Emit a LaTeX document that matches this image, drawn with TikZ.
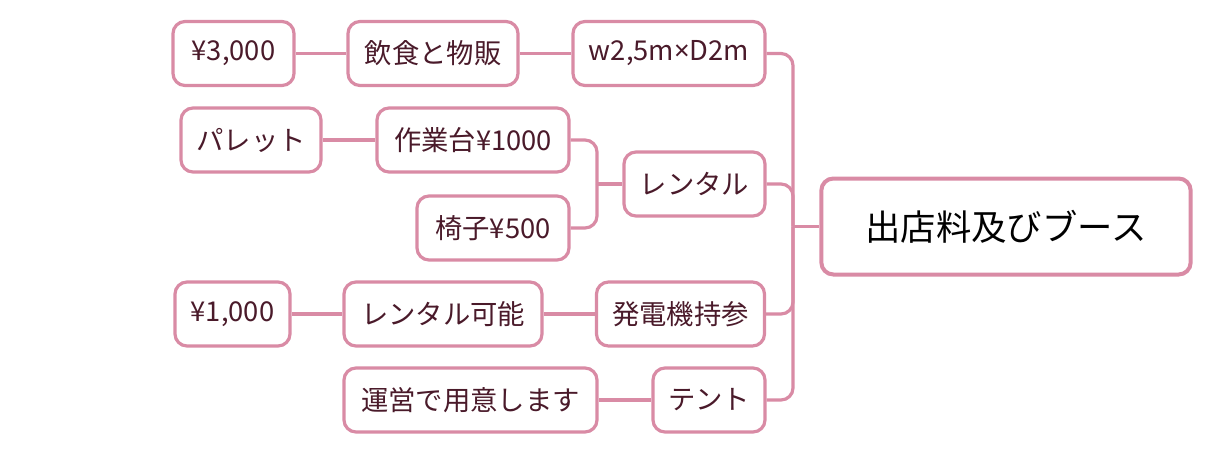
\documentclass[tikz,border=0pt]{standalone}
\usepackage{fontspec}
\setmainfont{Noto Sans CJK JP}
\newfontfamily\latfont{Noto Sans}
\begin{document}
\definecolor{pinkb}{RGB}{217,139,165}
\definecolor{txtc}{RGB}{74,26,42}
\begin{tikzpicture}[x=0.75pt,y=-0.75pt,
  box/.style={draw=pinkb,line width=2.4pt,rounded corners=9pt,fill=white,
    text=txtc,inner sep=0pt,minimum height=48pt,font=\fontsize{20.5}{24}\selectfont},
  rootbox/.style={box,line width=3pt,text=black,minimum height=72pt,font=\fontsize{26.5}{30}\selectfont},
  conn/.style={draw=pinkb,line width=2.4pt,rounded corners=9pt}]
\useasboundingbox (0,0) rectangle (1211,454);
% nodes
\node[rootbox,minimum width=277pt] (root) at (1006,226.5) {出店料及びブース};
\node[box,minimum width=144pt] (w) at (669,53.5) {w2,5m{\latfont ×}D2m};
\node[box,minimum width=127.5pt] (food) at (433,53.5) {飲食と物販};
\node[box,minimum width=90.75pt] (p3000) at (233.5,53.5) {¥3,000};
\node[box,minimum width=105.75pt] (rent) at (694.5,184) {レンタル};
\node[box,minimum width=144pt] (desk) at (473,140) {作業台¥1000};
\node[box,minimum width=105pt] (pal) at (251,140) {パレット};
\node[box,minimum width=114pt] (chair) at (493,228) {椅子¥500};
\node[box,minimum width=126pt] (gen) at (680.5,314) {発電機持参};
\node[box,minimum width=148.5pt] (rentok) at (443,314) {レンタル可能};
\node[box,minimum width=86.25pt] (p1000) at (232.5,314) {¥1,000};
\node[box,minimum width=84pt] (tent) at (709,400) {テント};
\node[box,minimum width=189.75pt] (unei) at (470.5,400) {運営で用意します};
% junction points
\coordinate (j1) at (793,226.5);
\coordinate (j2) at (597,184);
% connectors from root
\draw[conn] (root.west) -- (j1);
\draw[conn] (j1) |- (w.east);
\draw[conn] (j1) |- (rent.east);
\draw[conn] (j1) |- (gen.east);
\draw[conn] (j1) |- (tent.east);
% rental branch
\draw[conn] (rent.west) -- (j2);
\draw[conn] (j2) |- (desk.east);
\draw[conn] (j2) |- (chair.east);
% straight links
\draw[conn] (w.west) -- (food.east);
\draw[conn] (food.west) -- (p3000.east);
\draw[conn] (desk.west) -- (pal.east);
\draw[conn] (gen.west) -- (rentok.east);
\draw[conn] (rentok.west) -- (p1000.east);
\draw[conn] (tent.west) -- (unei.east);
\end{tikzpicture}
\end{document}
